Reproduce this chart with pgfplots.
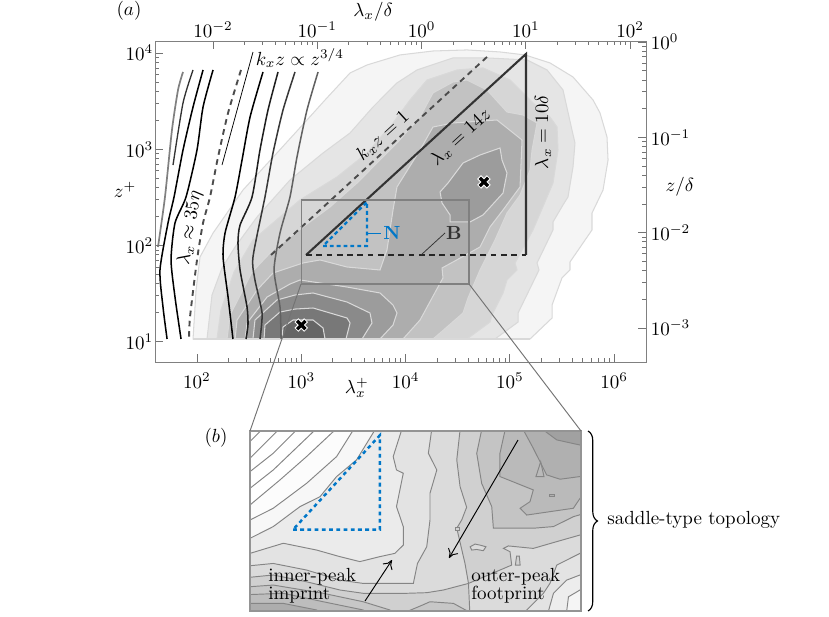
\documentclass[border=0pt]{standalone}
\usepackage{pgfplots}
\pgfplotsset{compat=1.18}
\usetikzlibrary{decorations.pathreplacing,arrows.meta}
\pgfplotsset{
  table/lg/.style={header=false,row sep=\\,x expr=10^\thisrowno{0},y expr=10^\thisrowno{1}},
  cmain/.style={fill=black!#1,draw=black!15,line width=0.55pt},
  cins/.style={fill=black!#1,draw=black!48,line width=0.5pt},
}
\definecolor{nblue}{HTML}{0077C8}
\begin{document}
\begin{tikzpicture}
\path[use as bounding box] (0,0) rectangle (436.3pt,-324.7pt);
% ---------- main axis, inner units
\begin{axis}[scale only axis,xmode=log,ymode=log,axis line style={draw=black!50,line width=0.5pt},
  tick style={draw=black!55,line width=0.4pt},tick align=inside,major tick length=4.2pt,minor tick length=2.1pt,
  log origin=infty,
  at={(81.58pt,-190.52pt)},anchor=south west,width=258.41pt,height=168.94pt,
  xmin=39.57,xmax=2.023e6,ymin=6.16,ymax=13360,
  xtick={100,1000,10000,100000,1000000},ytick={10,100,1000,10000},
  xtick pos=bottom,ytick pos=left,
  xticklabel style={yshift=-2.4pt},yticklabel style={xshift=2.5pt},
  xlabel={$\lambda_x^+$},ylabel={$z^+$},
  every axis x label/.style={at={(axis description cs:0.411,-0.081)},anchor=center},
  every axis y label/.style={at={(axis description cs:-0.061,0.536)},anchor=center,rotate=0},
  axis on top]
% L1
\addplot[cmain=4] table[lg] {1.962 1.029\\1.991 1.538\\2.029 1.881\\2.154 2.130\\2.441 2.577\\2.767 2.962\\3.055 3.305\\3.228 3.513\\3.468 3.794\\3.631 3.877\\3.947 3.981\\4.263 4.022\\4.589 4.033\\4.906 4.012\\5.146 3.981\\5.385 3.898\\5.606 3.752\\5.798 3.513\\5.865 3.378\\5.932 3.128\\5.942 2.889\\5.894 2.577\\5.788 2.338\\5.788 2.162\\5.577 1.829\\5.577 1.746\\5.500 1.663\\5.405 1.382\\5.405 1.247\\5.194 1.029\\} -- cycle;
% L2
\addplot[cmain=10] table[lg] {2.096 1.029\\2.144 1.486\\2.240 1.767\\2.365 1.985\\2.576 2.297\\2.892 2.681\\3.209 2.962\\3.468 3.170\\3.688 3.440\\3.918 3.690\\4.110 3.825\\4.455 3.950\\4.781 3.950\\5.165 3.929\\5.357 3.825\\5.510 3.617\\5.596 3.201\\5.625 3.066\\5.606 2.817\\5.558 2.505\\5.510 2.422\\5.414 2.245\\5.414 2.162\\5.261 1.819\\5.280 1.746\\5.079 1.299\\5.079 1.205\\4.858 1.029\\} -- cycle;
% L3
\addplot[cmain=16] table[lg] {2.192 1.029\\2.230 1.330\\2.355 1.725\\2.537 2.058\\2.988 2.474\\3.343 2.713\\3.631 2.962\\3.880 3.274\\4.043 3.513\\4.206 3.721\\4.494 3.825\\4.743 3.846\\5.002 3.721\\5.222 3.482\\5.385 3.336\\5.453 3.232\\5.462 2.993\\5.414 2.650\\5.222 2.162\\5.050 1.819\\5.069 1.746\\4.973 1.642\\4.935 1.507\\4.829 1.278\\4.810 1.205\\4.589 1.029\\} -- cycle;
% L4
\addplot[cmain=24] table[lg] {2.288 1.029\\2.317 1.278\\2.528 1.725\\2.729 1.954\\3.017 2.193\\3.276 2.401\\3.535 2.650\\3.659 2.785\\3.918 3.066\\4.139 3.336\\4.263 3.586\\4.455 3.700\\4.589 3.721\\4.781 3.617\\4.973 3.388\\5.127 3.357\\5.261 3.274\\5.213 2.993\\5.194 2.785\\5.098 2.525\\4.973 2.338\\4.858 2.058\\4.714 1.746\\4.599 1.455\\4.551 1.299\\4.331 1.091\\4.263 1.029\\} -- cycle;
% L5
\addplot[cmain=32] table[lg] {2.365 1.029\\2.384 1.226\\2.576 1.538\\2.729 1.715\\3.017 1.819\\3.180 1.850\\3.439 1.777\\3.755 1.746\\3.822 1.954\\3.880 2.370\\3.918 2.609\\4.139 2.993\\4.263 3.232\\4.455 3.274\\4.877 3.305\\5.117 3.097\\5.098 2.609\\4.935 2.370\\4.810 2.193\\4.714 1.985\\4.455 1.829\\4.350 1.767\\4.359 1.663\\4.311 1.569\\4.139 1.226\\3.976 1.029\\} -- cycle;
% upper blob
\addplot[cmain=39] table[lg] {4.906 3.014\\4.714 2.941\\4.551 2.858\\4.407 2.650\\4.331 2.557\\4.350 2.442\\4.427 2.318\\4.427 2.245\\4.618 2.245\\4.743 2.318\\4.935 2.546\\4.973 2.754\\4.925 2.889\\} -- cycle;
% lower lobes
\addplot[cmain=39] table[lg] {2.461 1.029\\2.480 1.195\\2.672 1.465\\2.892 1.600\\2.988 1.642\\3.439 1.569\\3.755 1.507\\3.880 1.382\\3.918 1.299\\3.880 1.174\\3.755 1.029\\} -- cycle;
\addplot[cmain=46] table[lg] {2.537 1.029\\2.556 1.226\\2.767 1.434\\2.940 1.486\\3.113 1.507\\3.439 1.413\\3.659 1.299\\3.678 1.195\\3.583 1.029\\} -- cycle;
\addplot[cmain=53] table[lg] {2.643 1.029\\2.652 1.174\\2.796 1.309\\2.940 1.340\\3.113 1.351\\3.439 1.247\\3.468 1.195\\3.429 1.029\\} -- cycle;
\addplot[cmain=60] table[lg] {2.815 1.029\\2.825 1.153\\2.921 1.226\\3.113 1.226\\3.209 1.143\\3.228 1.029\\} -- cycle;
% flat lower edge of the contours
\addplot[draw=black!15,line width=0.9pt] table[lg] {1.962 1.029\\5.194 1.029\\};
% iso-lines
\addplot[draw=black!50,line width=0.9pt,smooth,tension=0.4] table[lg] {1.866 3.804\\1.818 3.617\\1.760 3.201\\1.693 2.505\\1.626 1.985\\};
\addplot[draw=black!80,line width=0.7pt,smooth,tension=0.4] table[lg] {1.962 3.825\\1.866 3.482\\1.770 2.837\\};
\addplot[draw=black,line width=0.8pt,smooth,tension=0.4] table[lg] {2.058 3.825\\1.962 3.440\\1.866 2.993\\1.780 2.505\\1.722 2.234\\1.645 1.746\\1.674 1.361\\1.713 1.029\\};
\addplot[draw=black,line width=0.8pt,smooth,tension=0.4] table[lg] {2.154 3.825\\2.058 3.440\\2.000 2.993\\1.895 2.505\\1.789 2.234\\1.751 1.850\\1.789 1.465\\1.847 1.029\\};
\addplot[draw=black!70,line width=1pt,dash pattern=on 3pt off 2.4pt,smooth,tension=0.4] table[lg] {2.422 3.825\\2.298 3.378\\2.202 2.921\\2.125 2.505\\2.058 2.234\\2.000 1.850\\1.933 1.257\\1.924 1.029\\};
\addplot[draw=black,line width=0.8pt,smooth,tension=0.4] table[lg] {2.633 3.804\\2.509 3.336\\2.432 2.889\\2.365 2.505\\2.269 2.130\\2.250 1.881\\2.298 1.465\\2.345 1.029\\};
\addplot[draw=black!88,line width=0.8pt,smooth,tension=0.4] table[lg] {2.777 3.804\\2.681 3.409\\2.604 2.993\\2.528 2.505\\2.413 2.213\\2.393 2.027\\2.413 1.746\\2.480 1.361\\2.489 1.174\\2.470 1.029\\};
\addplot[draw=black!78,line width=0.8pt,smooth,tension=0.4] table[lg] {2.940 3.804\\2.825 3.409\\2.729 2.962\\2.652 2.505\\2.537 1.881\\2.556 1.642\\2.624 1.299\\2.604 1.029\\};
\addplot[draw=black!62,line width=0.8pt,smooth,tension=0.4] table[lg] {3.161 3.804\\3.055 3.409\\2.959 2.921\\2.892 2.505\\2.796 2.130\\2.739 1.746\\2.796 1.361\\2.806 1.029\\};
% reference lines
\addplot[draw=black!70,line width=1pt,dash pattern=on 3pt off 2.4pt] table[lg] {2.710 1.902\\4.781 3.960\\};
\addplot[draw=black!80,line width=1.1pt] table[lg] {5.155 1.902\\5.155 3.991\\3.046 1.902\\};
\addplot[draw=black!85,line width=1pt,dash pattern=on 3pt off 2.4pt] table[lg] {3.046 1.902\\5.155 1.902\\};
\addplot[draw=nblue,line width=1.2pt,dash pattern=on 2pt off 1.6pt] table[lg] {3.209 1.995\\3.631 1.995\\3.631 2.453\\3.209 1.995\\};
% zoomed rectangle
\addplot[draw=black!50,line width=0.6pt] table[lg] {3.0 1.600\\4.609 1.600\\4.609 2.474\\3.0 2.474\\3.0 1.600\\};
% spectral peaks
\addplot[only marks,mark=x,mark size=3.6pt,mark options={draw=white,line width=2.9pt}] table[lg] {3.0 1.174\\4.752 2.661\\};
\addplot[only marks,mark=x,mark size=3.1pt,mark options={draw=black,line width=1.7pt}] table[lg] {3.0 1.174\\4.752 2.661\\};
\end{axis}
% ---------- outer units
\begin{axis}[scale only axis,xmode=log,ymode=log,axis line style={draw=black!50,line width=0.5pt},
  tick style={draw=black!55,line width=0.4pt},tick align=inside,major tick length=4.2pt,minor tick length=2.1pt,
  log origin=infty,
  at={(81.58pt,-190.52pt)},anchor=south west,width=258.41pt,height=168.94pt,
  xmin=0.00278,xmax=142.2,ymin=4.385e-4,ymax=1.024,
  xtick={0.01,0.1,1,10,100},ytick={0.001,0.01,0.1,1},
  xtick pos=top,ytick pos=right,xticklabel pos=top,yticklabel pos=right,
  xticklabel style={yshift=-1.8pt},yticklabel style={xshift=-1pt},
  xlabel={$\lambda_x/\delta$},ylabel={$z/\delta$},
  every axis x label/.style={at={(axis description cs:0.444,1.09)},anchor=center},
  every axis y label/.style={at={(axis description cs:1.069,0.545)},anchor=center,rotate=0}]
\addplot[draw=none,forget plot] coordinates {(1,0.1)};
\end{axis}
% ---------- inset
\begin{axis}[scale only axis,xmode=log,ymode=log,at={(131.58pt,-321.57pt)},anchor=south west,width=174.2pt,height=94.73pt,
  xmin=1000,xmax=40640,ymin=39.81,ymax=297.9,xtick=\empty,ytick=\empty,
  axis line style={draw=black!42,line width=0.55pt},
  axis background/.style={fill=black!18.5},axis on top,log origin=infty]
\addplot[cins=14] table[lg] {2.951 1.759\\3.113 1.775\\3.275 1.742\\3.437 1.702\\3.550 1.686\\3.648 1.686\\3.761 1.686\\3.859 1.689\\3.940 1.702\\4.062 1.734\\4.045 1.831\\4.005 2.002\\4.029 2.042\\4.053 2.104\\4.021 2.204\\4.005 2.334\\4.021 2.479\\4.021 2.528\\2.951 2.528\\} -- cycle;
\addplot[cins=11] table[lg] {2.951 1.815\\3.113 1.831\\3.275 1.799\\3.437 1.750\\3.550 1.734\\3.664 1.734\\3.794 1.734\\3.814 1.831\\3.859 1.912\\3.875 2.042\\3.875 2.172\\3.908 2.285\\3.867 2.366\\3.883 2.479\\3.883 2.528\\2.951 2.528\\} -- cycle;
\addplot[cins=8] table[lg] {2.951 1.872\\3.0 1.880\\3.162 1.929\\3.324 1.896\\3.437 1.864\\3.534 1.840\\3.631 1.864\\3.704 1.880\\3.745 1.920\\3.745 2.010\\3.712 2.107\\3.745 2.269\\3.712 2.285\\3.696 2.350\\3.737 2.479\\3.737 2.528\\2.951 2.528\\} -- cycle;
\addplot[cins=3] table[lg] {2.951 1.929\\3.0 1.953\\3.113 2.010\\3.243 2.107\\3.340 2.155\\3.421 2.253\\3.518 2.334\\3.607 2.479\\3.615 2.528\\2.951 2.528\\} -- cycle;
\addplot[cins=1] table[lg] {2.951 2.018\\3.0 2.042\\3.113 2.099\\3.275 2.220\\3.421 2.350\\3.502 2.479\\3.510 2.528\\2.951 2.528\\} -- cycle;
\addplot[cins=0] table[lg] {2.951 2.082\\3.0 2.115\\3.145 2.236\\3.275 2.350\\3.413 2.479\\3.453 2.528\\2.951 2.528\\} -- cycle;
\addplot[cins=0] table[lg] {2.951 2.164\\3.0 2.196\\3.113 2.285\\3.316 2.479\\3.356 2.528\\2.951 2.528\\} -- cycle;
\addplot[cins=0] table[lg] {2.951 2.236\\3.0 2.277\\3.113 2.366\\3.226 2.479\\3.267 2.528\\2.951 2.528\\} -- cycle;
\addplot[cins=0] table[lg] {2.951 2.301\\3.0 2.342\\3.137 2.479\\3.186 2.528\\2.951 2.528\\} -- cycle;
\addplot[cins=0] table[lg] {2.951 2.374\\3.0 2.423\\3.056 2.479\\3.105 2.528\\2.951 2.528\\} -- cycle;
% lower left
\addplot[cins=22] table[lg] {2.951 1.718\\3.0 1.718\\3.113 1.726\\3.356 1.686\\3.550 1.645\\3.680 1.605\\3.729 1.556\\2.951 1.556\\} -- cycle;
\addplot[cins=26] table[lg] {2.951 1.678\\3.162 1.686\\3.356 1.645\\3.550 1.605\\3.599 1.556\\2.951 1.556\\} -- cycle;
\addplot[cins=32] table[lg] {2.951 1.637\\3.162 1.637\\3.324 1.605\\3.372 1.556\\2.951 1.556\\} -- cycle;
\addplot[cins=22] table[lg] {3.729 1.580\\3.762 1.597\\3.827 1.624\\3.875 1.645\\3.989 1.637\\4.062 1.597\\4.086 1.556\\3.729 1.556\\} -- cycle;
% lower right
\addplot[cins=14] table[lg] {4.062 1.734\\4.272 1.823\\4.264 1.888\\4.232 1.904\\4.256 1.916\\4.377 1.904\\4.491 1.937\\4.604 1.969\\4.653 1.977\\4.653 1.556\\4.070 1.556\\} -- cycle;
\addplot[cins=11] table[lg] {4.653 1.904\\4.604 1.880\\4.491 1.823\\4.458 1.734\\4.426 1.686\\4.337 1.597\\4.321 1.556\\4.653 1.556\\} -- cycle;
\addplot[cins=7] table[lg] {4.653 1.799\\4.604 1.775\\4.539 1.750\\4.475 1.686\\4.450 1.597\\4.445 1.556\\4.653 1.556\\} -- cycle;
\addplot[cins=4] table[lg] {4.653 1.726\\4.604 1.702\\4.548 1.669\\4.539 1.597\\4.539 1.556\\4.653 1.556\\} -- cycle;
% upper right
\addplot[cins=23] table[lg] {4.126 2.528\\4.126 2.479\\4.102 2.366\\4.126 2.220\\4.175 2.107\\4.183 2.002\\4.377 2.002\\4.475 2.010\\4.572 2.058\\4.653 2.082\\4.653 2.528\\} -- cycle;
\addplot[cins=27] table[lg] {4.240 2.528\\4.240 2.479\\4.215 2.366\\4.215 2.253\\4.377 2.188\\4.361 2.131\\4.313 2.099\\4.345 2.066\\4.572 2.099\\4.604 2.147\\4.653 2.164\\4.653 2.528\\} -- cycle;
\addplot[cins=31] table[lg] {4.329 2.528\\4.329 2.479\\4.377 2.390\\4.442 2.261\\4.507 2.240\\4.604 2.253\\4.653 2.261\\4.653 2.528\\} -- cycle;
\addplot[cins=37] table[lg] {4.426 2.528\\4.426 2.479\\4.491 2.431\\4.604 2.406\\4.653 2.406\\4.653 2.528\\} -- cycle;
% islands
\addplot[cins=27] table[lg] {4.390 2.253\\4.413 2.325\\4.429 2.253\\} -- cycle;
\addplot[cins=31] table[lg] {4.455 2.168\\4.478 2.168\\4.478 2.155\\4.455 2.155\\} -- cycle;
\addplot[cins=14] table[lg] {4.070 1.912\\4.094 1.925\\4.118 1.920\\4.147 1.912\\4.134 1.893\\4.102 1.899\\4.078 1.896\\} -- cycle;
\addplot[cins=18] table[lg] {4.296 1.867\\4.309 1.867\\4.313 1.823\\4.290 1.823\\} -- cycle;
\addplot[cins=18] table[lg] {3.997 2.006\\4.018 2.006\\4.018 1.990\\3.997 1.990\\} -- cycle;
% N triangle
\addplot[draw=nblue,line width=1.3pt,dash pattern=on 2pt off 1.8pt] table[lg] {3.209 1.995\\3.631 1.995\\3.631 2.453\\3.209 1.995\\};
\end{axis}
% ---------- annotations
\begin{scope}[x=0.5263pt,y=-0.5263pt]
\draw[black!55,line width=0.5pt] (301,284)--(250,431);
\draw[black!55,line width=0.5pt] (469,284)--(581,431);
\draw[black,line width=0.4pt] (253,52)--(222,165);
\draw[nblue,line width=0.5pt] (367,233)--(381,233);
\draw[black!80,line width=0.4pt] (421,255)--(445,233);
\node at (129,11) {$(a)$};
\node at (216,438) {$(b)$};
\node at (300,58) {$k_x z\propto z^{3/4}$};
\node[rotate=81] at (190,228) {$\lambda_x\approx 35\eta$};
\node[rotate=42.5] at (383,136) {$k_x z=1$};
\node[rotate=42.5] at (461,137) {$\lambda_x=14z$};
\node[rotate=90] at (543,132) {$\lambda_x=10\delta$};
\node[text=nblue] at (392,233) {$\mathbf{N}$};
\node[text=black!80] at (454,233) {$\mathbf{B}$};
\node[align=left,anchor=west,inner sep=0pt] at (268,586) {inner-peak\\[-2.6pt]imprint};
\node[align=left,anchor=west,inner sep=0pt] at (471,586) {outer-peak\\[-2.6pt]footprint};
\draw[black,line width=0.5pt,-{To[length=4.5pt,width=6pt]}] (365,601)--(392,560);
\draw[black,line width=0.5pt,-{To[length=4.5pt,width=6pt]}] (518,440)--(449,558);
\draw[black,line width=0.6pt,decorate,decoration={brace,amplitude=5pt}] (588,431)--(588,611);
\node[anchor=west,inner sep=0pt] at (607,520) {saddle-type topology};
\end{scope}
\end{tikzpicture}
\end{document}
